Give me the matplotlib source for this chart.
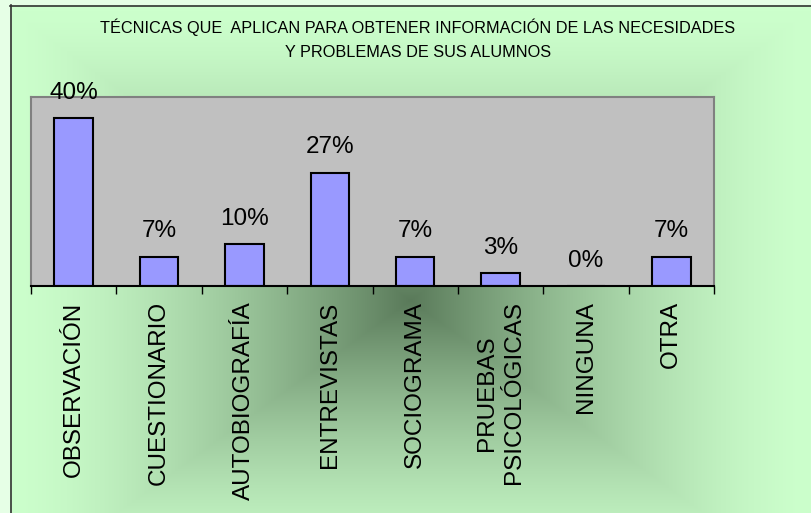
import numpy as np
import matplotlib
matplotlib.use('Agg')
import matplotlib.pyplot as plt
from matplotlib.lines import Line2D
from matplotlib.colors import to_rgb

categories = ['OBSERVACIÓN', 'CUESTIONARIO', 'AUTOBIOGRAFÍA', 'ENTREVISTAS',
              'SOCIOGRAMA', 'PRUEBAS\nPSICOLÓGICAS', 'NINGUNA', 'OTRA']
percentages = [40, 7, 10, 27, 7, 3, 0, 7]
title = ('TÉCNICAS QUE  APLICAN PARA OBTENER INFORMACIÓN DE LAS NECESIDADES\n'
         'Y PROBLEMAS DE SUS ALUMNOS')

plt.rcParams['font.family'] = ['Liberation Sans', 'DejaVu Sans']

W, H = 811, 513
fig = plt.figure(figsize=(W / 100, H / 100), dpi=100)
fig.patch.set_alpha(0)

# rectangular "from center" gradient of the chart area
yy, xx = np.mgrid[0:H, 0:W]
t = np.maximum(np.abs(xx - 410) / 400, np.abs(yy - 300) / 290).clip(0, 1)
dark = np.array(to_rgb('#5a7a5a'))
light = np.array(to_rgb('#ccffcc'))
img = light + (dark - light) * ((1 - t) ** 1.5)[..., None]
img[(xx < 10) | (yy < 5)] = to_rgb('#e6ffe6')
fig.figimage(img, 0, 0, origin='upper', zorder=0)

# chart area border (left and top visible)
fig.add_artist(Line2D([10.5 / W, 10.5 / W], [0, 1 - 5 / H], color='#333333',
                      lw=1.2, transform=fig.transFigure))
fig.add_artist(Line2D([10 / W, 1], [1 - 5.5 / H, 1 - 5.5 / H], color='#333333',
                      lw=1.2, transform=fig.transFigure))

ax = fig.add_axes([31 / W, 1 - 286 / H, 683 / W, 189 / H])
ax.set_zorder(2)
ax.set_facecolor('#c0c0c0')

x = np.arange(len(categories))
ax.bar(x, percentages, width=0.45, color='#9999ff', edgecolor='black',
       linewidth=1.5, zorder=2)
ax.set_xlim(-0.5, len(categories) - 0.5)
ax.set_ylim(0, 45)
ax.set_yticks([])

ax.set_xticks(x)
ax.set_xticklabels(categories, rotation=90, fontsize=17.5, va='top', ha='center',
                   multialignment='center', linespacing=1.3)
ax.tick_params(axis='x', which='major', length=0, pad=11)
ax.set_xticks(np.arange(-0.5, len(categories), 1), minor=True)
ax.tick_params(axis='x', which='minor', length=6, width=1, color='black',
               direction='out')

for side in ['top', 'left', 'right']:
    ax.spines[side].set_color('#808080')
    ax.spines[side].set_linewidth(1.5)
ax.spines['bottom'].set_color('black')
ax.spines['bottom'].set_linewidth(1.5)

for xi, v in zip(x, percentages):
    ax.annotate(f'{v}%', (xi, v), xytext=(0, 14), textcoords='offset points',
                ha='center', va='baseline', fontsize=17.5, annotation_clip=False)

t1 = fig.text(418 / W, 1 - 39 / H, title, ha='center', va='center',
              fontsize=11.7, linespacing=1.75)
t1.set_zorder(3)

fig.savefig('out.png', dpi=100)
